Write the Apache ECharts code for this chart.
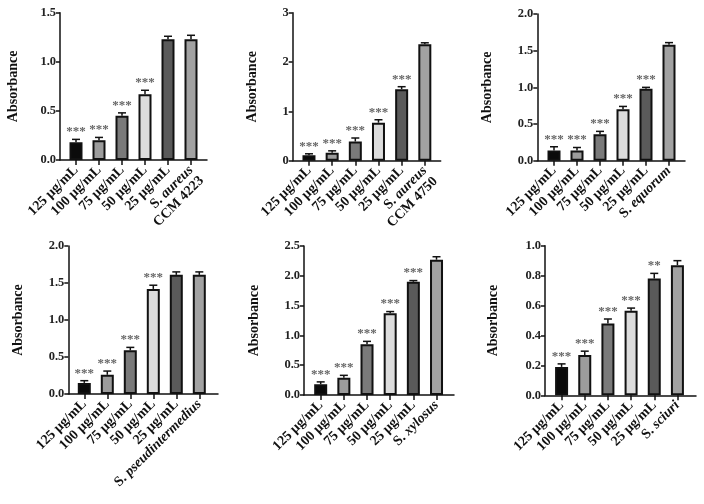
<!DOCTYPE html>
<html><head><meta charset="utf-8">
<script src="https://cdn.jsdelivr.net/npm/echarts@6/dist/echarts.min.js"></script>
<style>html,body{margin:0;padding:0;background:#fff}#c{width:704px;height:504px}</style>
</head><body><div id="c"></div>
<script>
// ---- data ----
const concentrations = ['125 μg/mL', '100 μg/mL', '75 μg/mL', '50 μg/mL', '25 μg/mL'];
const controls = ['S. aureus\nCCM 4223', 'S. aureus\nCCM 4750', 'S. equorum', 'S. pseudintermedius', 'S. xylosus', 'S. sciuri'];

const p1Values = [0.18, 0.20, 0.45, 0.67, 1.23, 1.23];
const p1Errors = [0.03, 0.03, 0.03, 0.04, 0.03, 0.04];
const p1Stars  = ['***', '***', '***', '***', '', ''];

const p2Values = [0.11, 0.16, 0.39, 0.77, 1.45, 2.36];
const p2Errors = [0.03, 0.04, 0.07, 0.06, 0.05, 0.03];
const p2Stars  = ['***', '***', '***', '***', '***', ''];

const p3Values = [0.14, 0.14, 0.36, 0.70, 0.98, 1.58];
const p3Errors = [0.05, 0.04, 0.04, 0.04, 0.02, 0.03];
const p3Stars  = ['***', '***', '***', '***', '***', ''];

const p4Values = [0.15, 0.26, 0.59, 1.42, 1.61, 1.61];
const p4Errors = [0.03, 0.05, 0.04, 0.05, 0.04, 0.04];
const p4Stars  = ['***', '***', '***', '***', '', ''];

const p5Values = [0.18, 0.29, 0.85, 1.37, 1.90, 2.27];
const p5Errors = [0.04, 0.04, 0.05, 0.03, 0.02, 0.05];
const p5Stars  = ['***', '***', '***', '***', '***', ''];

const p6Values = [0.19, 0.27, 0.48, 0.565, 0.78, 0.87];
const p6Errors = [0.02, 0.025, 0.03, 0.018, 0.035, 0.03];
const p6Stars  = ['***', '***', '***', '***', '**', ''];

const yMaxes = [1.5, 3, 2, 2, 2.5, 1.0];
const yIntervals = [0.5, 1, 0.5, 0.5, 0.5, 0.2];
const yDecimals = [1, 0, 1, 1, 1, 1];

const panelValues = [p1Values, p2Values, p3Values, p4Values, p5Values, p6Values];
const panelErrors = [p1Errors, p2Errors, p3Errors, p4Errors, p5Errors, p6Errors];
const panelStars  = [p1Stars, p2Stars, p3Stars, p4Stars, p5Stars, p6Stars];

// ---- layout & style ----
const layout = [
  {ax: 60,    end: 207,   top: 12.7,  bottom: 160,   barLeft: 64.5,  barW: 138, nameGap: 40},
  {ax: 292.7, end: 440.7, top: 12.7,  bottom: 160.7, barLeft: 297.4, barW: 139, nameGap: 33},
  {ax: 537.3, end: 685,   top: 14,    bottom: 160.7, barLeft: 542.5, barW: 138, nameGap: 43},
  {ax: 68.3,  end: 218,   top: 246,   bottom: 394,   barLeft: 72.8,  barW: 138, nameGap: 43},
  {ax: 304,   end: 454,   top: 246,   bottom: 395,   barLeft: 309.1, barW: 139, nameGap: 43},
  {ax: 545,   end: 696,   top: 245.7, bottom: 395.3, barLeft: 550,   barW: 139, nameGap: 45}
];
const barColors = ['#0b0b0b', '#9c9c9c', '#7a7a7a', '#dcdcdc', '#5a5a5a', '#a2a2a2'];
const FONT = '"Liberation Serif", "Times New Roman", serif';

function labelFormatter(v) {
  if (v.indexOf('S. ') === 0) {
    const lines = v.split('\n');
    const first = lines[0].slice(3);
    let s = '{n|S. }{i|' + first + '}';
    if (lines[1]) s = '{e| }\n' + s + '\n{n|' + lines[1] + '}';
    return s;
  }
  return '{n|' + v + '}';
}

const grids = [], xAxes = [], yAxes = [], series = [];
// category grids (0..5)
layout.forEach((L, i) => {
  grids.push({left: L.barLeft, top: L.top, width: L.barW, height: L.bottom - L.top, containLabel: false});
  xAxes.push({
    type: 'category', gridIndex: i,
    data: concentrations.concat([controls[i]]),
    axisLine: {show: false},
    axisTick: {show: true, alignWithLabel: true, length: 5, lineStyle: {color: '#111', width: 1.5}},
    axisLabel: {
      interval: 0, rotate: 45, margin: 8, color: '#111', formatter: labelFormatter,
      rich: {
        n: {fontFamily: FONT, fontWeight: 'bold', fontSize: 14, color: '#111', lineHeight: 15},
        i: {fontFamily: FONT, fontWeight: 'bold', fontStyle: 'italic', fontSize: 14, color: '#111', lineHeight: 15},
        e: {fontFamily: FONT, fontSize: 14, lineHeight: 15}
      }
    },
    splitLine: {show: false}
  });
  yAxes.push({type: 'value', gridIndex: i, min: 0, max: yMaxes[i], interval: yIntervals[i], show: false});
});
// frame grids (6..11)
layout.forEach((L, i) => {
  grids.push({left: L.ax, top: L.top, width: L.end - L.ax, height: L.bottom - L.top, containLabel: false});
  xAxes.push({
    type: 'value', gridIndex: 6 + i, min: 0, max: 1,
    axisLine: {show: true, lineStyle: {color: '#111', width: 1.5}},
    axisTick: {show: false}, axisLabel: {show: false}, splitLine: {show: false}
  });
  yAxes.push({
    type: 'value', gridIndex: 6 + i, min: 0, max: yMaxes[i], interval: yIntervals[i],
    name: 'Absorbance', nameLocation: 'middle', nameGap: L.nameGap,
    nameTextStyle: {fontFamily: FONT, fontWeight: 'bold', fontSize: 14, color: '#111'},
    axisLine: {show: true, lineStyle: {color: '#111', width: 1.5}},
    axisTick: {show: true, length: 4, lineStyle: {color: '#111', width: 1.5}},
    axisLabel: {margin: 4, fontFamily: FONT, fontWeight: 'bold', fontSize: 12.5, color: '#222',
      formatter: (v) => v.toFixed(yDecimals[i])},
    splitLine: {show: false}
  });
});

panelValues.forEach((vals, i) => {
  series.push({
    type: 'bar', xAxisIndex: i, yAxisIndex: i, barWidth: 13,
    data: vals.map((v, k) => ({value: v, itemStyle: {color: barColors[k]}})),
    itemStyle: {borderColor: '#111', borderWidth: 2},
    z: 2
  });
  series.push({
    type: 'custom', xAxisIndex: i, yAxisIndex: i, z: 3,
    data: vals.map((v, k) => [k, v, panelErrors[i][k]]),
    renderItem: function (params, api) {
      const k = api.value(0), v = api.value(1), e = api.value(2);
      const base = api.coord([k, v]);
      const top = api.coord([k, v + e]);
      const st = panelStars[i][params.dataIndex];
      const children = [
        {type: 'line', shape: {x1: base[0], y1: base[1], x2: top[0], y2: top[1]}, style: {stroke: '#111', lineWidth: 1.5}},
        {type: 'line', shape: {x1: top[0] - 4, y1: top[1], x2: top[0] + 4, y2: top[1]}, style: {stroke: '#111', lineWidth: 1.5}}
      ];
      if (st) {
        children.push({type: 'text', style: {x: top[0], y: top[1] - 1, text: st, textAlign: 'center', textVerticalAlign: 'bottom',
          font: 'bold 13px ' + FONT, fill: '#666'}});
      }
      return {type: 'group', children: children};
    }
  });
});

const chart = echarts.init(document.getElementById('c'), null, {renderer: 'canvas'});
chart.setOption({animation: false, backgroundColor: '#fff', grid: grids, xAxis: xAxes, yAxis: yAxes, series: series});
</script>
</body></html>
